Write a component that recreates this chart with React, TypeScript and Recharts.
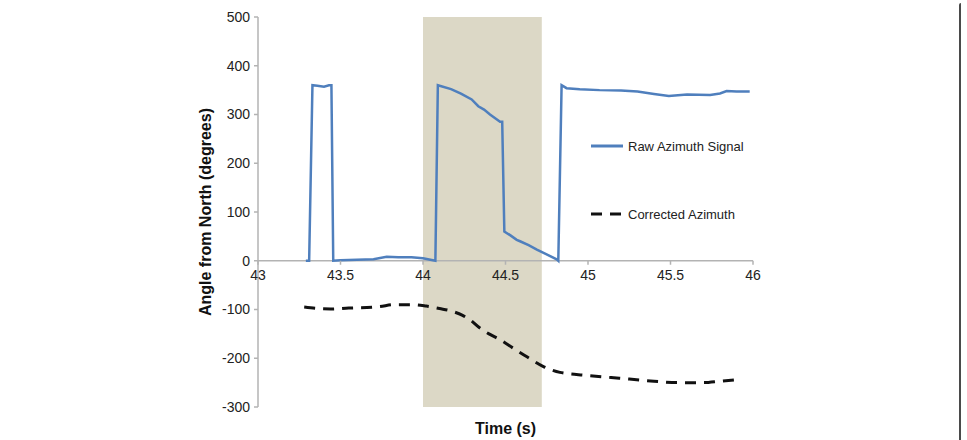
import React from 'react';
import { LineChart, Line, XAxis, YAxis, ReferenceArea, ReferenceLine, ReferenceDot } from 'recharts';

const rawTime = [43.29, 43.31, 43.33, 43.36, 43.4, 43.43, 43.445, 43.456, 43.5, 43.6, 43.7, 43.78, 43.85, 43.93, 44.0, 44.06, 44.075, 44.09, 44.17, 44.23, 44.295, 44.335, 44.37, 44.406, 44.467, 44.48, 44.493, 44.53, 44.568, 44.588, 44.64, 44.69, 44.81, 44.82, 44.84, 44.87, 44.95, 45.07, 45.2, 45.3, 45.4, 45.49, 45.6, 45.74, 45.8, 45.84, 45.9, 45.98];
const rawAngle = [0, 0, 360, 359, 357, 360, 360, 0, 1, 2, 3, 8, 7, 7, 5, 1, 0, 360, 352, 343, 331, 317, 310, 300, 285, 285, 60, 52, 43, 40, 32, 23, 3, 0, 360, 354, 352, 350, 349, 347, 342, 338, 341, 340, 343, 348, 347, 347];

const corrTime = [43.28, 43.36, 43.44, 43.55, 43.66, 43.74, 43.82, 43.94, 44.02, 44.1, 44.18, 44.24, 44.285, 44.345, 44.4, 44.467, 44.55, 44.63, 44.73, 44.83, 44.99, 45.19, 45.4, 45.54, 45.7, 45.8, 45.93];
const corrAngle = [-95, -98, -99, -97, -96, -94, -90, -90, -93, -98, -104, -112, -121, -138, -150, -162, -180, -197, -217, -229, -235, -241, -247, -250, -250, -247, -243];

const xTicks = [43, 43.5, 44, 44.5, 45, 45.5, 46];
const yTicks = [-300, -200, -100, 0, 100, 200, 300, 400, 500];
const highlight = [44.0, 44.72];

const rawData = rawTime.map((t, i) => ({ t, v: rawAngle[i] }));
const corrData = corrTime.map((t, i) => ({ t, v: corrAngle[i] }));

const FONT = 'Liberation Sans, Arial, Helvetica, sans-serif';
const BLUE = '#4f7fbd';
const AXIS = '#b3b3b3';

const XTickMark = (props: any) => {
  const { cx, cy, label } = props;
  return (
    <g>
      <line x1={cx} y1={cy} x2={cx} y2={cy + 4} stroke={AXIS} strokeWidth={1.5} />
      <text x={cx} y={cy + 19} textAnchor="middle" fontSize={14} fill="#222" fontFamily={FONT}>
        {label}
      </text>
    </g>
  );
};

const LegendBox = () => (
  <div style={{ position: 'absolute', left: 591, top: 136, fontFamily: FONT, fontSize: 13, color: '#222' }}>
    <div style={{ display: 'flex', alignItems: 'center', height: 20 }}>
      <svg width={37} height={6}>
        <line x1={0} y1={3} x2={32} y2={3} stroke={BLUE} strokeWidth={3} />
      </svg>
      <span>Raw Azimuth Signal</span>
    </div>
    <div style={{ display: 'flex', alignItems: 'center', height: 20, marginTop: 48 }}>
      <svg width={37} height={6}>
        <line x1={0} y1={3} x2={32} y2={3} stroke="#111" strokeWidth={3} strokeDasharray="11 8" />
      </svg>
      <span>Corrected Azimuth</span>
    </div>
  </div>
);

export default function App() {
  return (
    <div style={{ position: 'absolute', left: 0, top: 0, width: 967, height: 440, background: '#fff' }}>
      <LineChart width={967} height={440} margin={{ top: 17, right: 214, bottom: 0, left: 198 }}>
        <ReferenceArea x1={highlight[0]} x2={highlight[1]} y1={-300} y2={500} fill="#dcd8c6" fillOpacity={1} stroke="none" />
        <XAxis
          dataKey="t"
          type="number"
          domain={[43, 46]}
          ticks={xTicks}
          allowDuplicatedCategory={false}
          tick={false}
          axisLine={false}
          tickLine={false}
          height={33}
          label={{ value: 'Time (s)', position: 'center', dy: 5, style: { fontFamily: FONT, fontSize: 16, fontWeight: 'bold', fill: '#111' } }}
        />
        <YAxis
          type="number"
          domain={[-300, 500]}
          ticks={yTicks}
          interval={0}
          width={60}
          stroke={AXIS}
          strokeWidth={1.5}
          tickSize={4}
          tickMargin={4}
          tick={{ fontSize: 14, fill: '#222', fontFamily: FONT }}
          label={{ value: 'Angle from North (degrees)', angle: -90, position: 'center', dx: -23, style: { fontFamily: FONT, fontSize: 16, fontWeight: 'bold', fill: '#111', textAnchor: 'middle' } }}
        />
        <ReferenceLine y={0} stroke={AXIS} strokeWidth={1.5} />
        {xTicks.map((x) => (
          <ReferenceDot key={x} x={x} y={0} r={0} shape={(p: any) => <XTickMark {...p} label={String(x)} />} />
        ))}
        <Line data={rawData} dataKey="v" type="linear" stroke={BLUE} strokeWidth={2.5} dot={false} isAnimationActive={false} name="Raw Azimuth Signal" />
        <Line data={corrData} dataKey="v" type="monotone" stroke="#111" strokeWidth={3} strokeDasharray="11 8" dot={false} isAnimationActive={false} name="Corrected Azimuth" />
      </LineChart>
      <LegendBox />
      <div style={{ position: 'absolute', left: 959, top: 3, width: 2, height: 437, background: '#4a4a4a', borderTopLeftRadius: 4 }} />
    </div>
  );
}
